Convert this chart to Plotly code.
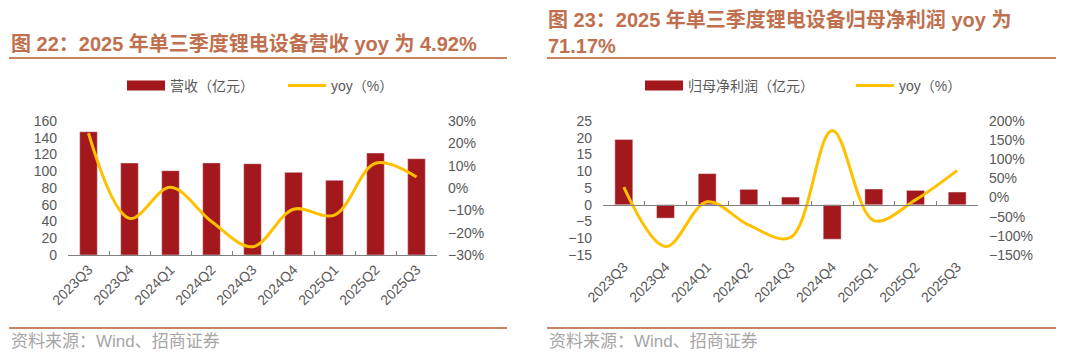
import plotly.graph_objects as go

W, H = 1080, 357

# ---------------- data ----------------
quarters = ["2023Q3", "2023Q4", "2024Q1", "2024Q2", "2024Q3",
            "2024Q4", "2025Q1", "2025Q2", "2025Q3"]
revenue = [147.2, 109.9, 100.7, 110.0, 109.0, 98.7, 89.2, 121.8, 115.0]
revenue_yoy = [24.5, -13.6, 0.3, -15.0, -26.3, -9.5, -12.1, 11.1, 4.92]
profit = [19.5, -4.0, 9.3, 4.6, 2.3, -10.3, 4.7, 4.3, 3.8]
profit_yoy = [27.0, -128.0, -11.0, -72.0, -104.0, 175.0, -60.0, -6.0, 71.17]

title_left = "图 22：2025 年单三季度锂电设备营收 yoy 为 4.92%"
title_right = "图 23：2025 年单三季度锂电设备归母净利润 yoy 为<br>71.17%"
source_text = "资料来源：Wind、招商证券"
name_rev = "营收（亿元）"
name_profit = "归母净利润（亿元）"
name_yoy = "yoy（%）"

# ---------------- style ----------------
BAR = "#A3181C"
LINE = "#FFC000"
TITLE_C = "#C0704E"
RULE_C = "#C98462"
TICK_C = "#595959"
SRC_C = "#A6A6A6"
FONT = "Liberation Sans, Arial, Noto Sans CJK SC, sans-serif"


def px_x(v):
    return v / W


def px_y(v):
    return 1 - v / H


ydom = [px_y(255), px_y(121)]
xdom_l = [px_x(68), px_x(437)]
xdom_r = [px_x(603), px_x(978)]

fig = go.Figure()

# left chart
fig.add_trace(go.Bar(x=quarters, y=revenue, marker_color=BAR, name=name_rev,
                     showlegend=False, legendgroup="rev", xaxis="x", yaxis="y"))
fig.add_trace(go.Scatter(x=[None], y=[None], mode="lines", name=name_rev,
                         line=dict(color=BAR, width=10), legendgroup="rev",
                         legend="legend", xaxis="x", yaxis="y"))
fig.add_trace(go.Scatter(x=quarters, y=revenue_yoy, mode="lines", name=name_yoy,
                         line=dict(color=LINE, width=3, shape="spline", smoothing=1.0),
                         legend="legend", xaxis="x", yaxis="y2"))

# right chart
fig.add_trace(go.Bar(x=quarters, y=profit, marker_color=BAR, name=name_profit,
                     showlegend=False, legendgroup="pro", xaxis="x2", yaxis="y3"))
fig.add_trace(go.Scatter(x=quarters, y=profit, mode="markers",
                         marker=dict(opacity=0), showlegend=False, hoverinfo="skip",
                         xaxis="x3", yaxis="y3"))
fig.add_trace(go.Scatter(x=[None], y=[None], mode="lines", name=name_profit,
                         line=dict(color=BAR, width=10), legendgroup="pro",
                         legend="legend2", xaxis="x2", yaxis="y3"))
fig.add_trace(go.Scatter(x=quarters, y=profit_yoy, mode="lines", name=name_yoy,
                         line=dict(color=LINE, width=3, shape="spline", smoothing=1.0),
                         legend="legend2", xaxis="x2", yaxis="y4"))

tickfont = dict(family=FONT, size=14, color=TICK_C)
xtickfont = dict(family=FONT, size=14, color=TICK_C)

yr_l = [0, 160]
yr_r = [-15, 25]
zero_pos = ydom[0] + (0 - yr_r[0]) / (yr_r[1] - yr_r[0]) * (ydom[1] - ydom[0])

cat_range = [-0.5, len(quarters) - 0.5]

fig.update_layout(
    width=W, height=H,
    margin=dict(l=0, r=0, t=0, b=0, autoexpand=False),
    paper_bgcolor="white", plot_bgcolor="rgba(0,0,0,0)",
    font=dict(family=FONT, color=TICK_C),
    bargap=0.57,
    xaxis=dict(domain=xdom_l, anchor="y", type="category", range=cat_range,
               showline=True, linecolor="#7F7F7F", linewidth=1, automargin=False,
               ticks="inside", tickson="boundaries", ticklen=4, tickcolor="#7F7F7F",
               tickangle=-45, tickfont=xtickfont, showgrid=False),
    yaxis=dict(domain=ydom, anchor="x", range=yr_l, dtick=20, showgrid=False,
               zeroline=False, showline=False, tickfont=tickfont, automargin=False,
               ticklabelstandoff=10),
    yaxis2=dict(domain=ydom, anchor="x", overlaying="y", side="right", range=[-30, 30],
                dtick=10, ticksuffix="%", showgrid=False, zeroline=False,
                tickfont=tickfont, ticklabelstandoff=10, automargin=False),
    xaxis2=dict(domain=xdom_r, anchor="y3", type="category", range=cat_range,
                showline=False, ticks="", tickangle=-45, tickfont=xtickfont,
                showgrid=False, automargin=False),
    xaxis3=dict(domain=xdom_r, anchor="free", overlaying="x2", position=zero_pos,
                type="category", range=cat_range, showline=True, linecolor="#7F7F7F",
                linewidth=1, ticks="inside", tickson="boundaries", ticklen=4,
                tickcolor="#7F7F7F", showticklabels=False, showgrid=False,
                automargin=False),
    yaxis3=dict(domain=ydom, anchor="x2", range=yr_r, dtick=5, showgrid=False,
                zeroline=False, showline=False, tickfont=tickfont, automargin=False,
                ticklabelstandoff=10),
    yaxis4=dict(domain=ydom, anchor="x2", overlaying="y3", side="right",
                range=[-150, 200], dtick=50, ticksuffix="%", showgrid=False,
                zeroline=False, tickfont=tickfont, ticklabelstandoff=10,
                automargin=False),
    legend=dict(orientation="h", x=px_x(122), y=px_y(86), xanchor="left",
                yanchor="middle", font=dict(family=FONT, size=14, color=TICK_C),
                itemwidth=38, entrywidth=108, entrywidthmode="pixels",
                bgcolor="rgba(0,0,0,0)"),
    legend2=dict(orientation="h", x=px_x(640), y=px_y(86), xanchor="left",
                 yanchor="middle", font=dict(family=FONT, size=14, color=TICK_C),
                 itemwidth=38, entrywidth=158, entrywidthmode="pixels",
                 bgcolor="rgba(0,0,0,0)"),
)

# titles
fig.add_annotation(text=f"<b>{title_left}</b>", xref="paper", yref="paper",
                   x=px_x(9), y=px_y(44), xanchor="left", yanchor="middle",
                   showarrow=False, align="left",
                   font=dict(family=FONT, size=20, color=TITLE_C))
fig.add_annotation(text=f"<b>{title_right}</b>", xref="paper", yref="paper",
                   x=px_x(546), y=px_y(32), xanchor="left", yanchor="middle",
                   showarrow=False, align="left",
                   font=dict(family=FONT, size=20, color=TITLE_C))

# sources
for x0 in (9, 547):
    fig.add_annotation(text=source_text, xref="paper", yref="paper",
                       x=px_x(x0), y=px_y(341), xanchor="left", yanchor="middle",
                       showarrow=False, font=dict(family=FONT, size=17, color=SRC_C))

# rules
for (x0, x1) in ((9, 507), (547, 1056)):
    for yy in (58, 328):
        fig.add_shape(type="line", xref="paper", yref="paper",
                      x0=px_x(x0), x1=px_x(x1), y0=px_y(yy), y1=px_y(yy),
                      line=dict(color=RULE_C, width=2))

fig.write_html(
    "out.html",
    config={"displayModeBar": False},
    post_script="document.body.style.margin='0';document.body.style.padding='0';",
)
